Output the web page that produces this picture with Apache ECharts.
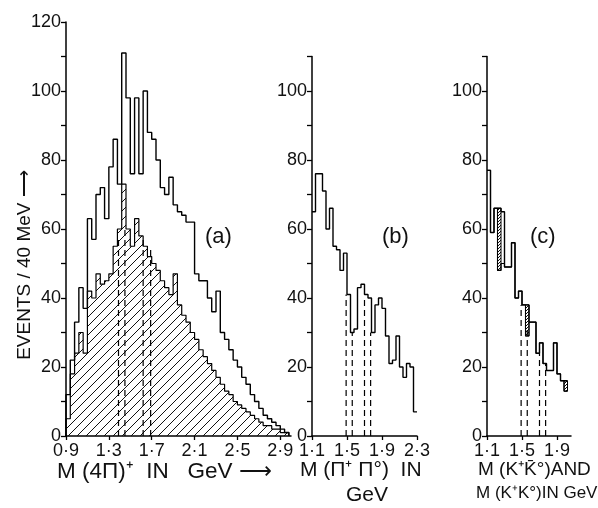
<!DOCTYPE html>
<html><head><meta charset="utf-8">
<script src="https://cdn.jsdelivr.net/npm/echarts@6/dist/echarts.min.js"></script>
<style>html,body{margin:0;padding:0;background:#fff}#c{width:598px;height:508px}</style>
</head><body><div id="c"></div>
<script>
// ---------- data ----------
const binW = 0.04;
// panel (a): M(4pi)+ , bins from 0.90 GeV
const aStart = 0.90;
const aOuter = [12,22,33,43,37,63,57,70,72,63,78,86,73,111,98,76,98,76,100,88,86,80,72,70,75,67,65,64,62,62,47,45,45,40,36,42,30,28,25,22,20,17,15,12,10,8,6,5,4,3,2,1];
const aHatched = [5,18,24,30,24,42,40,47,44,45,47,55,60,73,60,55,63,58,55,52,50,48,45,43,41,47,38,35,33,30,28,25,23,21,19,17,15,13,12,10,9,8,7,6,5,4,3,3,2,2,1,1];
const aTicks = [0.9,1.3,1.7,2.1,2.5,2.9];
const aYLabels = [0,20,40,60,80,100,120];
const aDashX = [1.39,1.45,1.62,1.69];
const aDashTop = [58,60,58,55];
// panel (b): M(pi+ pi0)
const bStart = 1.10;
const bValues = [65,76,76,71,60,66,55,54,48,53,41,30,31,43,44,41,40,30,38,40,37,29,21,22,29,20,17,21,20,7];
const bTicks = [1.1,1.5,1.9,2.3];
const bDashX = [1.49,1.56,1.70,1.77];
const bDashTop = [41,30,40,30];
// panel (c): M(K+ K0bar) and M(K+ K0)
const cStart = 1.10;
const cOuter = [77,59,66,66,65,49,49,56,40,42,38,38,33,33,24,27,21,19,19,27,18,16,16];
const cInner = [77,59,66,48,50,49,49,56,40,42,38,29,33,33,24,27,21,19,19,27,18,16,13];
const cHatchBins = [3,11,22];
const cTicks = [1.1,1.5,1.9];
const cDashX = [1.49,1.56,1.70,1.77];
const cDashTop = [38,31,24,21];
const bcYLabels = [0,20,40,60,80,100];

// ---------- helpers ----------
function steps(start, vals, dropStart, dropEnd){
  const p=[]; if(dropStart) p.push([start,0]);
  vals.forEach((v,i)=>{p.push([+(start+i*binW).toFixed(3),v]);p.push([+(start+(i+1)*binW).toFixed(3),v]);});
  if(dropEnd) p.push([+(start+vals.length*binW).toFixed(3),0]);
  return p;
}
function hatch(s,lw){
  const c=document.createElement('canvas');c.width=c.height=s;
  const g=c.getContext('2d');g.strokeStyle='#111';g.lineWidth=lw;g.beginPath();
  g.moveTo(0,s);g.lineTo(s,0);g.moveTo(-s/2,s/2);g.lineTo(s/2,-s/2);g.moveTo(s/2,s*1.5);g.lineTo(s*1.5,s/2);g.stroke();
  return c;
}
const hatchA = {image:hatch(9,1),repeat:'repeat'};
const hatchC = {image:hatch(3,1),repeat:'repeat'};
const fmt = v => v.toFixed(1).replace('.', '\u00B7');
const FONT = 'Liberation Sans';
const lab = {fontFamily:FONT,fontSize:18,color:'#111'};
const axLine = {lineStyle:{color:'#000',width:1.5}};

function xAxis(idx,min,max,ticks){
  return {type:'value',gridIndex:idx,min:min,max:max,axisLine:axLine,splitLine:{show:false},
    axisTick:{customValues:ticks,length:4,lineStyle:{color:'#000',width:1.3}},
    axisLabel:Object.assign({customValues:ticks,formatter:fmt,margin:6},lab)};
}
function yAxis(idx,max,labels){
  return {type:'value',gridIndex:idx,min:0,max:max,interval:10,axisLine:Object.assign({show:true},axLine),splitLine:{show:false},
    axisTick:{show:true,length:5,lineStyle:{color:'#000',width:1.3}},
    axisLabel:Object.assign({customValues:labels,margin:5},lab)};
}
function lineSeries(i,data,extra){
  return Object.assign({type:'line',xAxisIndex:i,yAxisIndex:i,data:data,showSymbol:false,symbol:'none',
    lineStyle:{color:'#000',width:1.4},z:3,animation:false},extra||{});
}
function dashSeries(i,xs,tops){
  return {type:'custom',xAxisIndex:i,yAxisIndex:i,animation:false,z:4,
    data:xs.map((x,k)=>[x,tops[k]]),
    renderItem:(p,api)=>{const a=api.coord([api.value(0),0]);const b=api.coord([api.value(0),api.value(1)]);
      return {type:'line',shape:{x1:a[0],y1:a[1],x2:b[0],y2:b[1]},style:{stroke:'#000',lineWidth:1.2,lineDash:[6,4]}};}};
}
const T = (txt,l,t,size) => ({type:'text',left:l,top:t,style:{text:txt,font:size+'px "Liberation Sans"',fill:'#111'}});

const chart = echarts.init(document.getElementById('c'),null,{renderer:'canvas'});
chart.setOption({
  backgroundColor:'#fff',animation:false,
  grid:[
    {left:66,top:22,width:225,height:414},
    {left:312,top:56.5,width:105,height:379.5},
    {left:487,top:56.5,width:84,height:379.5}
  ],
  xAxis:[xAxis(0,0.9,3.0,aTicks),xAxis(1,1.1,2.3,bTicks),xAxis(2,1.1,2.06,cTicks)],
  yAxis:[yAxis(0,120,aYLabels),yAxis(1,110,bcYLabels),yAxis(2,110,bcYLabels)],
  series:[
    lineSeries(0,steps(aStart,aHatched,true,true),{areaStyle:{color:hatchA,opacity:1,origin:'start'},lineStyle:{color:'#000',width:1.2}}),
    lineSeries(0,steps(aStart,aOuter,true,true)),
    dashSeries(0,aDashX,aDashTop),
    lineSeries(1,steps(bStart,bValues,false,false)),
    dashSeries(1,bDashX,bDashTop),
    {type:'custom',xAxisIndex:2,yAxisIndex:2,animation:false,z:2,
      data:cHatchBins.map(k=>[cStart+k*binW,cStart+(k+1)*binW,cInner[k],cOuter[k]]),
      renderItem:(p,api)=>{const a=api.coord([api.value(0),api.value(2)]);const b=api.coord([api.value(1),api.value(3)]);
        return {type:'rect',shape:{x:a[0],y:b[1],width:b[0]-a[0],height:a[1]-b[1]},style:{fill:hatchC,stroke:'#000',lineWidth:1}};}},
    lineSeries(2,steps(cStart,cOuter,false,false)),
    lineSeries(2,steps(cStart,cInner,false,false),{lineStyle:{color:'#000',width:1.1}}),
    dashSeries(2,cDashX,cDashTop)
  ],
  graphic:[
    {type:'text',x:25,y:265,rotation:Math.PI/2,style:{text:'EVENTS / 40 MeV \u27F6',font:'19px "Liberation Sans"',fill:'#111',align:'center',verticalAlign:'middle'}},
    T('(a)',205,226,22),
    T('(b)',382,226,22),
    T('(c)',530,226,22),
    T('M (4\u03A0)\u207A  IN   GeV \u27F6',57,460,22.5),
    T('M (\u03A0\u207A \u03A0\u00B0)  IN',300,460,21),
    T('GeV',346,485,21),
    T('M (K\u207AK\u0304\u00B0)AND',478,460,19),
    T('M (K\u207AK\u00B0)IN GeV',476,485,17)
  ]
});
</script></body></html>
